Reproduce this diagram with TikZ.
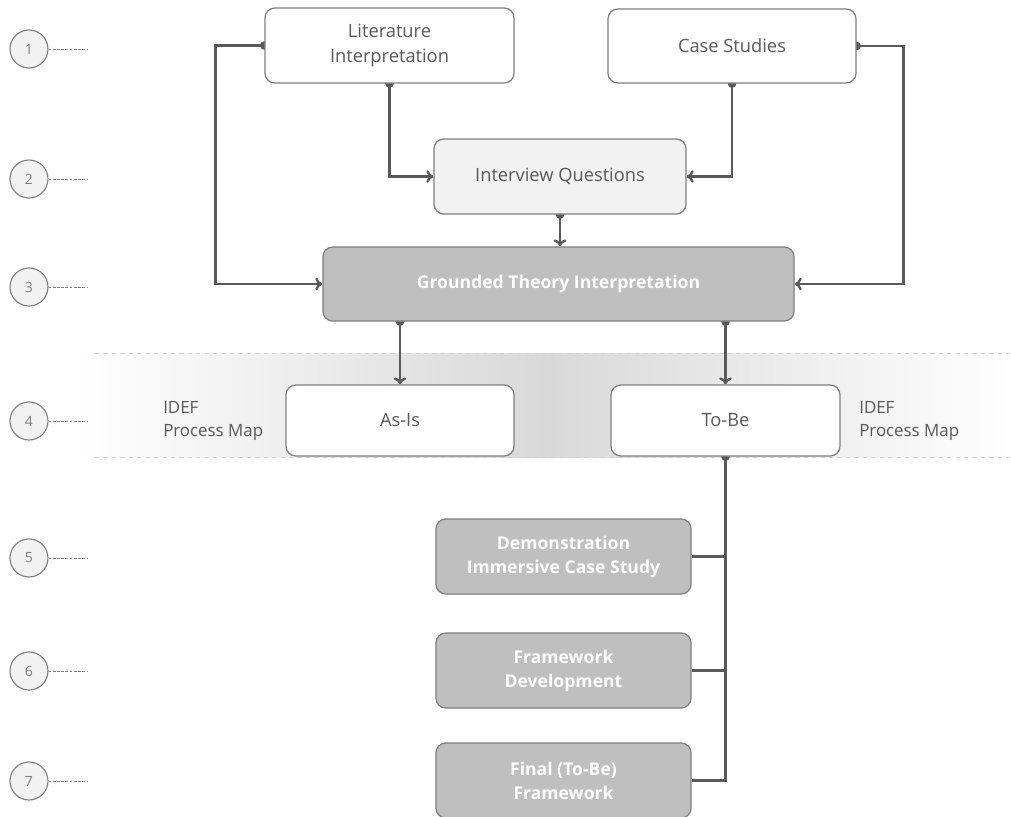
\documentclass[tikz,border=0pt]{standalone}
\usepackage{fontspec}
\setmainfont{Open Sans}
\usetikzlibrary{arrows.meta,backgrounds,positioning}
\definecolor{linegray}{HTML}{595959}
\definecolor{edgegray}{HTML}{7F7F7F}
\definecolor{boxgray}{HTML}{BFBFBF}
\definecolor{lightbox}{HTML}{F2F2F2}
\begin{document}
\begin{tikzpicture}[x=0.025cm, y=-0.025cm,
  box/.style = {draw=edgegray, line width=0.9pt, rounded corners=7pt, fill=white, text=linegray, align=center, inner sep=2pt, font=\fontsize{13}{18}\selectfont},
  darkbox/.style = {box, fill=boxgray, text=white, font=\fontsize{12.5}{17}\selectfont\bfseries},
  stage/.style = {draw=edgegray, line width=0.8pt, circle, fill=lightbox, minimum size=0.95cm, inner sep=0pt, text=edgegray, font=\fontsize{10}{11}\selectfont},
  note/.style = {text=linegray, align=left, anchor=west, inner sep=0pt, font=\fontsize{12}{17}\selectfont},
  link/.style = {draw=linegray, line width=1.7pt, {Circle[length=6pt]}-{To[length=5pt,width=9pt]}, shorten <=-3pt},
  branch/.style = {draw=linegray, line width=1.7pt, {Circle[length=6pt]}-, shorten <=-3pt}]
\useasboundingbox (0,0) rectangle (1011,816);
% stages
\foreach \n/\y in {1/49,2/179,3/287,4/421,5/558,6/671,7/781} {
  \node[stage] (stage\n) at (29,\y) {\n};
  \coordinate (tick\n) at (88,\y);
  \draw[edgegray, line width=0.7pt, dash pattern=on 2pt off 1pt] (stage\n.east) -- (tick\n);
}
% boxes
\node[box, minimum width=6.225cm, minimum height=1.875cm] (lit) at (389.5,45.5) {Literature\\Interpretation};
\node[box, minimum width=6.2cm, minimum height=1.85cm] (case) at (732,46) {Case Studies};
\node[box, fill=lightbox, minimum width=6.3cm, minimum height=1.875cm] (iq) at (560,176.5) {Interview Questions};
\node[darkbox, minimum width=11.775cm, minimum height=1.85cm] (gt) at (558.5,284) {Grounded Theory Interpretation};
\node[box, minimum width=5.7cm, minimum height=1.775cm] (asis) at (400,420.5) {As-Is};
\node[box, minimum width=5.725cm, minimum height=1.775cm] (tobe) at (725.5,420.5) {To-Be};
\node[note] (idefl) at (163,421) {IDEF\\Process Map};
\node[note] (idefr) at (859,421) {IDEF\\Process Map};
\node[darkbox, minimum width=6.375cm, minimum height=1.875cm] (demo) at (563.5,556.5) {Demonstration\\Immersive Case Study};
\node[darkbox, minimum width=6.375cm, minimum height=1.875cm] (fdev) at (563.5,670.5) {Framework\\Development};
\node[darkbox, minimum width=6.375cm, minimum height=1.875cm] (final) at (563.5,780.5) {Final (To-Be)\\Framework};
\begin{scope}[on background layer]
% band behind stage 4
\fill[left color=white, right color=white, middle color=black!15] (80,353) rectangle (1011,457);
\draw[gray!35, line width=0.6pt, dashed] (95,353) -- (1011,353);
\draw[gray!35, line width=0.6pt, dashed] (95,457) -- (1011,457);
% connectors
\path[link] (lit.west) -- ++(-49,0) |- (gt.west);
\path[link] (lit.south) |- (iq.west);
\path[link] (case.south) |- (iq.east);
\path[link] (case.east) -- ++(47,0) |- (gt.east);
\path[link] (iq.south) -- (iq.south |- gt.north);
\path[link] (gt.south -| asis.north) -- (asis.north);
\path[link] (gt.south -| tobe.north) -- (tobe.north);
\path[branch] (tobe.south) |- (final.east);
\draw[linegray, line width=1.7pt] (demo.east) -- (demo.east -| tobe.south);
\draw[linegray, line width=1.7pt] (fdev.east) -- (fdev.east -| tobe.south);
\end{scope}
\end{tikzpicture}
\end{document}
